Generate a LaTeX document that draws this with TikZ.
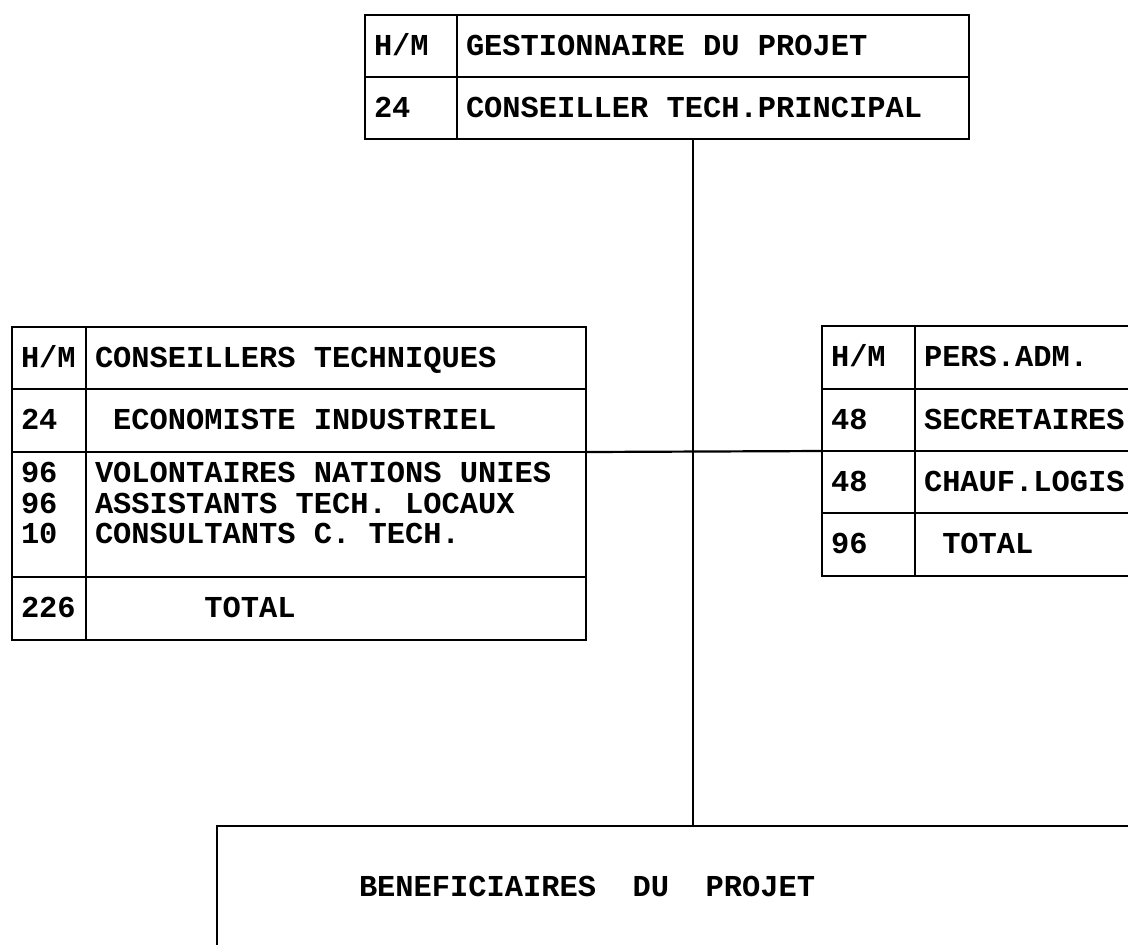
\documentclass[tikz,border=0pt]{standalone}
\usepackage{fontspec}
\newfontfamily\courfont{Liberation Mono}
\tikzset{
  cell/.style 2 args={draw, line width=1.1pt, anchor=north west, outer sep=0pt,
    inner xsep=4.5pt, inner ysep=0pt, align=left, text width=#1, minimum height=#2,
    text height=10pt, text depth=1pt,
    font=\courfont\bfseries\fontsize{15.2pt}{15.2pt}\selectfont,
    execute at begin node={\spaceskip=9.12pt\xspaceskip=9.12pt\relax}},
  multi/.style={text height={}, text depth={}},
  link/.style={line width=1.1pt}
}
\begin{document}
\begin{tikzpicture}[x=0.5pt,y=-0.5pt]
  \useasboundingbox (0,0) rectangle (1128,944);
  \clip (0,0) rectangle (1128,944);
  \node[cell={37pt}{31pt}] (tHM) at (365,15) {H/M};
  \node[cell={247pt}{31pt}] (tGes) at (tHM.north east) {GESTIONNAIRE DU PROJET};
  \node[cell={37pt}{31pt}] (tNum) at (tHM.south west) {24};
  \node[cell={247pt}{31pt}] (tCtp) at (tNum.north east) {CONSEILLER TECH.PRINCIPAL};

  \node[cell={28pt}{31pt}] (lHM) at (12,327) {H/M};
  \node[cell={241pt}{31pt}] (lCon) at (lHM.north east) {CONSEILLERS TECHNIQUES};
  \node[cell={28pt}{31.5pt}] (lNum) at (lHM.south west) {24};
  \node[cell={241pt}{31.5pt}] (lEco) at (lNum.north east) {~ECONOMISTE INDUSTRIEL};
  \node[cell={28pt}{62.5pt}, multi] (lNums) at (lNum.south west)
    {96\\96\\10\rule[-11.5pt]{0pt}{0pt}};
  \node[cell={241pt}{62.5pt}, multi] (lVol) at (lNums.north east)
    {VOLONTAIRES NATIONS UNIES\\ASSISTANTS TECH. LOCAUX\\CONSULTANTS C. TECH.\rule[-11.5pt]{0pt}{0pt}};
  \node[cell={28pt}{31.5pt}] (lTot) at (lNums.south west) {226};
  \node[cell={241pt}{31.5pt}] (lTotal) at (lTot.north east) {~~~~~~TOTAL};

  \node[cell={37.5pt}{31.5pt}] (rHM) at (822,326) {H/M};
  \node[cell={133.5pt}{31.5pt}] (rPers) at (rHM.north east) {PERS.ADM.};
  \node[cell={37.5pt}{31pt}] (rSecN) at (rHM.south west) {48};
  \node[cell={133.5pt}{31pt}] (rSec) at (rSecN.north east) {SECRETAIRES};
  \node[cell={37.5pt}{31pt}] (rChaN) at (rSecN.south west) {48};
  \node[cell={133.5pt}{31pt}] (rCha) at (rChaN.north east) {CHAUF.LOGIS};
  \node[cell={37.5pt}{31.5pt}] (rTot) at (rChaN.south west) {96};
  \node[cell={133.5pt}{31.5pt}] (rTotal) at (rTot.north east) {~TOTAL};

  \node[cell={349.5pt}{61pt}, inner xsep=71pt] (benef) at (217,826)
    {BENEFICIAIRES~~DU~~PROJET};

  \coordinate (hub) at (693,452);
  \draw[link] (tCtp.south -| hub) -- (benef.north -| hub);
  \draw[link] (lEco.south east) -- (rChaN.north west);
\end{tikzpicture}
\end{document}
